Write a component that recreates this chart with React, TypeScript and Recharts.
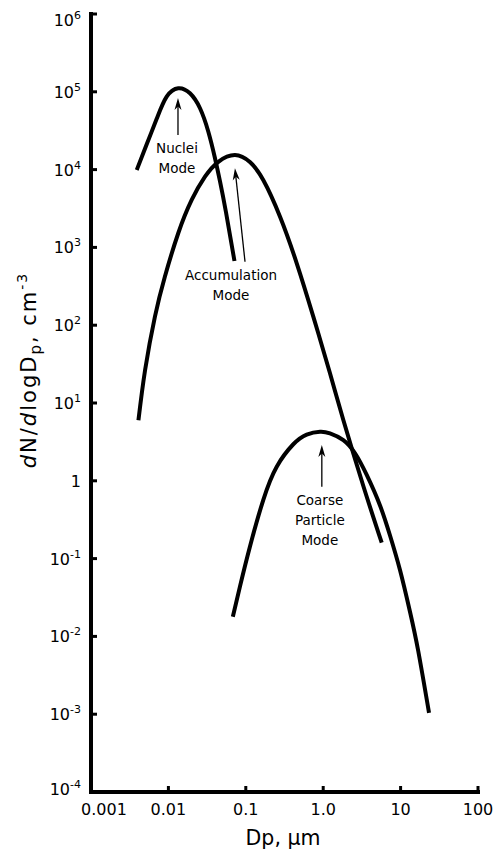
import { LineChart, Line, XAxis, YAxis, ReferenceLine } from 'recharts';

// particle diameter (µm) and number distribution (cm^-3)
const nucleiDp = [0.0039, 0.0052, 0.0071, 0.0095, 0.0134, 0.019, 0.0256, 0.0328, 0.04, 0.0465, 0.0554, 0.0714];
const nucleiDn = [9900, 20700, 45600, 86500, 111000, 95700, 61400, 30700, 14000, 7000, 2850, 668];

const accumDp = [0.0041, 0.005, 0.0067, 0.009, 0.0134, 0.02, 0.0297, 0.0442, 0.0724, 0.113, 0.168, 0.277, 0.455, 0.745, 1.224, 1.82, 3.3, 5.7];
const accumDn = [6.0, 26.6, 129, 420, 1520, 4070, 8110, 12600, 15400, 12500, 7350, 2480, 625, 129, 24.1, 6.04, 0.857, 0.16];

const coarseDp = [0.068, 0.084, 0.113, 0.168, 0.251, 0.411, 0.612, 0.91, 1.224, 1.82, 2.58, 3.65, 5.42, 7.3, 9.82, 13.2, 16.9, 23.3];
const coarseDn = [0.0179, 0.0436, 0.142, 0.566, 1.52, 2.95, 3.93, 4.28, 4.08, 3.34, 2.26, 1.19, 0.482, 0.198, 0.0713, 0.0209, 0.00649, 0.00104];

const xTicks = [0.001, 0.01, 0.1, 1, 10, 100];
const xTickLabels = ['0.001', '0.01', '0.1', '1.0', '10', '100'];

const yTicks = [1e-4, 1e-3, 1e-2, 1e-1, 1, 1e1, 1e2, 1e3, 1e4, 1e5, 1e6];
const yTickBase = ['10', '10', '10', '10', '1', '10', '10', '10', '10', '10', '10'];
const yTickSup = ['-4', '-3', '-2', '-1', '', '1', '2', '3', '4', '5', '6'];

// mode annotations: arrow tail -> tip, text under the tail
const noteText = [['Nuclei', 'Mode'], ['Accumulation', 'Mode'], ['Coarse', 'Particle', 'Mode']];
const noteTailDp = [0.0133, 0.0977, 0.96];
const noteTailDn = [27900, 655, 0.84];
const noteTipDp = [0.0133, 0.0724, 0.96];
const noteTipDn = [83200, 10400, 2.88];
const noteTextShift = [-1, -14, -2];

const FONT = '"DejaVu Sans", sans-serif';

const toRows = (dp: number[], dn: number[]) => dp.map((d, i) => ({ dp: d, dn: dn[i] }));
const nucleiData = toRows(nucleiDp, nucleiDn);
const accumData = toRows(accumDp, accumDn);
const coarseData = toRows(coarseDp, coarseDn);

function XTick(props: any) {
  const { x, y, payload, index } = props;
  const i = xTicks.indexOf(payload.value);
  return (
    <g>
      <line x1={x} y1={y} x2={x} y2={y - 6} stroke="#000" strokeWidth={3} />
      <text x={x + (index === 0 ? 13 : 0)} y={y + 23} textAnchor="middle" fontFamily={FONT} fontSize={16} fill="#000">
        {xTickLabels[i]}
      </text>
    </g>
  );
}

function YTick(props: any) {
  const { x, y, payload } = props;
  const i = yTicks.findIndex((t) => Math.abs(Math.log10(t) - Math.log10(payload.value)) < 1e-6);
  const shift = i === yTicks.length - 1 ? 6 : i === 0 ? -3 : 0;
  return (
    <g>
      <line x1={x} y1={y} x2={x + 6} y2={y} stroke="#000" strokeWidth={3} />
      <text x={x - 10} y={y + 6 + shift} textAnchor="end" fontFamily={FONT} fontSize={16} fill="#000">
        <tspan>{yTickBase[i]}</tspan>
        {yTickSup[i] && (
          <tspan dy={-7} fontSize={11}>
            {yTickSup[i]}
          </tspan>
        )}
      </text>
    </g>
  );
}

function makeArrow(n: number) {
  return (props: any) => {
    const { x1, y1, x2, y2 } = props;
    const len = Math.hypot(x2 - x1, y2 - y1) || 1;
    const ux = (x2 - x1) / len;
    const uy = (y2 - y1) / len;
    const nx = -uy;
    const ny = ux;
    const L = 12;
    const W = 3.5;
    const head = [
      [x2, y2],
      [x2 - ux * L + nx * W, y2 - uy * L + ny * W],
      [x2 - ux * (L - 3.5), y2 - uy * (L - 3.5)],
      [x2 - ux * L - nx * W, y2 - uy * L - ny * W],
    ];
    const tx = x1 + noteTextShift[n];
    return (
      <g>
        <line x1={x1} y1={y1} x2={x2 - ux * 6} y2={y2 - uy * 6} stroke="#000" strokeWidth={1.3} />
        <polygon points={head.map((p) => p.join(',')).join(' ')} fill="#000" />
        <text x={tx} y={y1 + 18} textAnchor="middle" fontFamily={FONT} fontSize={13.5} fill="#000">
          {noteText[n].map((t, k) => (
            <tspan key={k} x={tx} dy={k === 0 ? 0 : 20}>
              {t}
            </tspan>
          ))}
        </text>
      </g>
    );
  };
}

const axisStroke = { stroke: '#000', strokeWidth: 4, strokeLinecap: 'square' as const };

export default function App() {
  return (
    <div style={{ position: 'absolute', left: 0, top: 0, background: '#fff' }}>
      <LineChart width={496} height={853} margin={{ top: 14, right: 18, bottom: 21, left: 31 }}>
        <XAxis
          dataKey="dp"
          type="number"
          scale="log"
          domain={[0.001, 100]}
          allowDataOverflow
          ticks={xTicks}
          interval={0}
          height={40}
          axisLine={axisStroke}
          tickLine={false}
          tickSize={0}
          tickMargin={0}
          tick={(p: any) => <XTick {...p} />}
          label={{
            content: () => (
              <text x={283} y={845} textAnchor="middle" fontFamily={FONT} fontSize={20.5} fill="#000">
                Dp, μm
              </text>
            ),
          }}
        />
        <YAxis
          type="number"
          scale="log"
          domain={[1e-4, 1e6]}
          allowDataOverflow
          ticks={yTicks}
          interval={0}
          width={60}
          axisLine={axisStroke}
          tickLine={false}
          tickSize={0}
          tickMargin={0}
          tick={(p: any) => <YTick {...p} />}
          label={{
            content: () => (
              <text transform="rotate(-90)" x={-370} y={36} textAnchor="middle" fontFamily={FONT} fontSize={21} letterSpacing={2} fill="#000">
                <tspan fontStyle="italic">d</tspan>
                <tspan>N/</tspan>
                <tspan fontStyle="italic">d</tspan>
                <tspan>logD</tspan>
                <tspan dy={5} fontSize={15}>p</tspan>
                <tspan dy={-5}>, cm</tspan>
                <tspan dy={-9} fontSize={14}>-3</tspan>
              </text>
            ),
          }}
        />
        <Line data={nucleiData} dataKey="dn" type="natural" stroke="#000" strokeWidth={4} dot={false} isAnimationActive={false} />
        <Line data={accumData} dataKey="dn" type="natural" stroke="#000" strokeWidth={4} dot={false} isAnimationActive={false} />
        <Line data={coarseData} dataKey="dn" type="natural" stroke="#000" strokeWidth={4} dot={false} isAnimationActive={false} />
        {noteText.map((_, n) => (
          <ReferenceLine
            key={n}
            segment={[
              { x: noteTailDp[n], y: noteTailDn[n] },
              { x: noteTipDp[n], y: noteTipDn[n] },
            ]}
            ifOverflow="visible"
            shape={makeArrow(n)}
          />
        ))}
      </LineChart>
    </div>
  );
}
